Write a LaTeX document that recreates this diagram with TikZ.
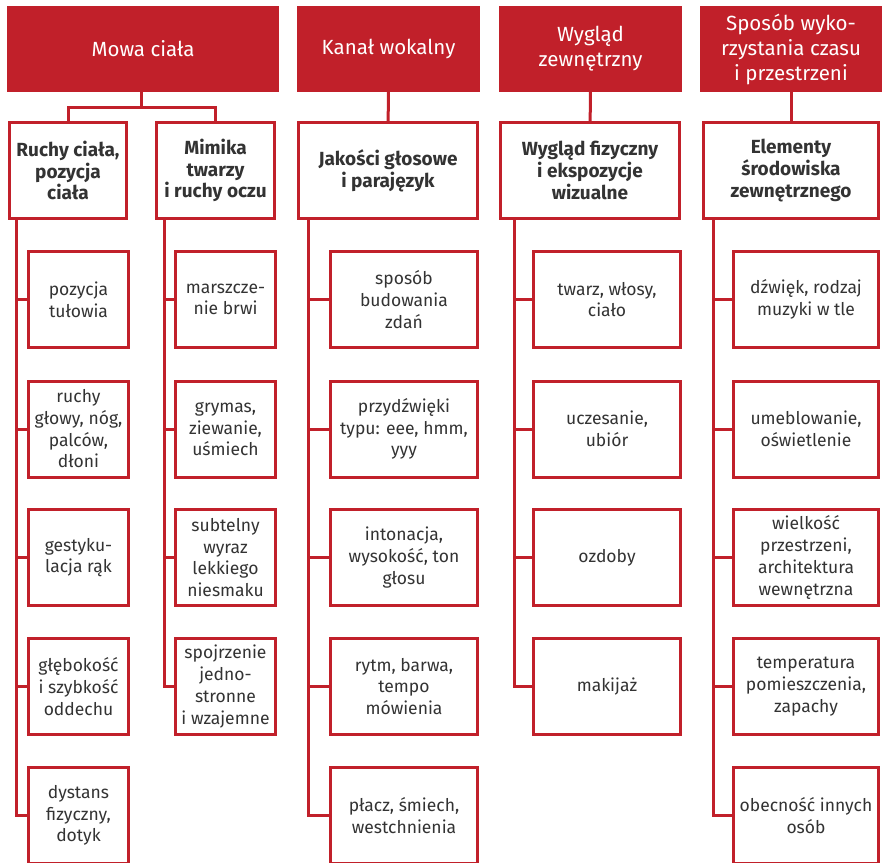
\documentclass[tikz,border=0pt]{standalone}
\usepackage{fontspec}
\setmainfont{Fira Sans}
\definecolor{czerwien}{HTML}{C1202A}
\definecolor{grafit}{HTML}{333333}
\tikzset{
  naglowek/.style={rectangle, fill=czerwien, text=white, align=center, inner sep=0pt,
    minimum height=86pt, font=\fontsize{20.5}{25}\selectfont},
  grupa/.style={rectangle, draw=czerwien, line width=3pt, fill=white, text=grafit, align=center,
    inner sep=0pt, minimum height=96pt, font=\bfseries\fontsize{19}{21.7}\selectfont},
  lisc/.style={rectangle, draw=czerwien, line width=3pt, fill=white, text=grafit, align=center,
    inner sep=0pt, minimum height=96pt, font=\fontsize{17.5}{21.7}\selectfont},
  galaz/.style={draw=czerwien, line width=3pt}
}
\begin{document}
\begin{tikzpicture}[x=1pt,y=-1pt]
      \clip (0,0) rectangle (882,862);
      % naglowki
      \node[naglowek, minimum width=272pt] (h1) at (143,49) {Mowa ciała};
      \node[naglowek, minimum width=183pt] (h2) at (388.5,49) {Kanał wokalny};
      \node[naglowek, minimum width=183pt] (h3) at (590.5,49) {Wygląd\\zewnętrzny};
      \node[naglowek, minimum width=182pt] (h4) at (791,49) {Sposób wyko-\\rzystania czasu\\i przestrzeni};
      % grupy
      \node[grupa, minimum width=117pt] (g1) at (68,170.5) {Ruchy ciała,\\pozycja\\ciała};
      \node[grupa, minimum width=118pt] (g2) at (215.5,170.5) {Mimika\\twarzy\\i ruchy oczu};
      \node[grupa, minimum width=179pt] (g3) at (388,170.5) {Jakości głosowe\\i parajęzyk};
      \node[grupa, minimum width=179pt] (g4) at (590,170.5) {Wygląd fizyczny\\i ekspozycje\\wizualne};
      \node[grupa, minimum width=175pt] (g5) at (791,170.5) {Elementy\\środowiska\\zewnętrznego};
      % mowa ciala
      \node[lisc, minimum width=100pt] (a1) at (78.5,299.5) {pozycja\\tułowia};
      \node[lisc, minimum width=100pt] (a2) at (78.5,429) {ruchy\\głowy, nóg,\\palców,\\dłoni};
      \node[lisc, minimum width=100pt] (a3) at (78.5,557.5) {gestyku-\\lacja rąk};
      \node[lisc, minimum width=100pt] (a4) at (78.5,686.5) {głębokość\\i szybkość\\oddechu};
      \node[lisc, minimum width=100pt] (a5) at (78.5,815.5) {dystans\\fizyczny,\\dotyk};
      \node[lisc, minimum width=100pt] (b1) at (225.5,299.5) {marszcze-\\nie brwi};
      \node[lisc, minimum width=100pt] (b2) at (225.5,429) {grymas,\\ziewanie,\\uśmiech};
      \node[lisc, minimum width=100pt] (b3) at (225.5,557.5) {subtelny\\wyraz\\lekkiego\\niesmaku};
      \node[lisc, minimum width=100pt] (b4) at (225.5,686.5) {spojrzenie\\jedno-\\stronne\\i wzajemne};
      % kanal wokalny
      \node[lisc, minimum width=147pt] (c1) at (404,299.5) {sposób\\budowania\\zdań};
      \node[lisc, minimum width=147pt] (c2) at (404,429) {przydźwięki\\typu: eee, hmm,\\yyy};
      \node[lisc, minimum width=147pt] (c3) at (404,557.5) {intonacja,\\wysokość, ton\\głosu};
      \node[lisc, minimum width=147pt] (c4) at (404,686.5) {rytm, barwa,\\tempo\\mówienia};
      \node[lisc, minimum width=147pt] (c5) at (404,815.5) {płacz, śmiech,\\westchnienia};
      % wyglad
      \node[lisc, minimum width=147pt] (d1) at (607,299.5) {twarz, włosy,\\ciało};
      \node[lisc, minimum width=147pt] (d2) at (607,429) {uczesanie,\\ubiór};
      \node[lisc, minimum width=147pt] (d3) at (607,557.5) {ozdoby};
      \node[lisc, minimum width=147pt] (d4) at (607,686.5) {makijaż};
      % czas i przestrzen
      \node[lisc, minimum width=145pt] (e1) at (806,299.5) {dźwięk, rodzaj\\muzyki w tle};
      \node[lisc, minimum width=145pt] (e2) at (806,429) {umeblowanie,\\oświetlenie};
      \node[lisc, minimum width=145pt] (e3) at (806,557.5) {wielkość\\przestrzeni,\\architektura\\wewnętrzna};
      \node[lisc, minimum width=145pt] (e4) at (806,686.5) {temperatura\\pomieszczenia,\\zapachy};
      \node[lisc, minimum width=145pt] (e5) at (806,815.5) {obecność innych\\osób};
      % poczatki pni
      \coordinate (ta) at (16,220);
      \coordinate (tb) at (164,220);
      \coordinate (tc) at (308,220);
      \coordinate (td) at (514,220);
      \coordinate (te) at (713,220);
      \coordinate (j1) at (141,107);
      \begin{scope}[galaz]
        \draw (h1.south -| j1) -- (j1);
        \draw (j1) -| (g1.north);
        \draw (j1) -| (g2.north);
        \draw (h2) to (g3);
        \draw (h3) to (g4);
        \draw (h4) to (g5);
        \draw (ta) |- (a1.west);
        \draw (ta) |- (a2.west);
        \draw (ta) |- (a3.west);
        \draw (ta) |- (a4.west);
        \draw (ta) |- (a5.west);
        \draw (tb) |- (b1.west);
        \draw (tb) |- (b2.west);
        \draw (tb) |- (b3.west);
        \draw (tb) |- (b4.west);
        \draw (tc) |- (c1.west);
        \draw (tc) |- (c2.west);
        \draw (tc) |- (c3.west);
        \draw (tc) |- (c4.west);
        \draw (tc) |- (c5.west);
        \draw (td) |- (d1.west);
        \draw (td) |- (d2.west);
        \draw (td) |- (d3.west);
        \draw (td) |- (d4.west);
        \draw (te) |- (e1.west);
        \draw (te) |- (e2.west);
        \draw (te) |- (e3.west);
        \draw (te) |- (e4.west);
        \draw (te) |- (e5.west);
      \end{scope}
    \end{tikzpicture}
\end{document}
